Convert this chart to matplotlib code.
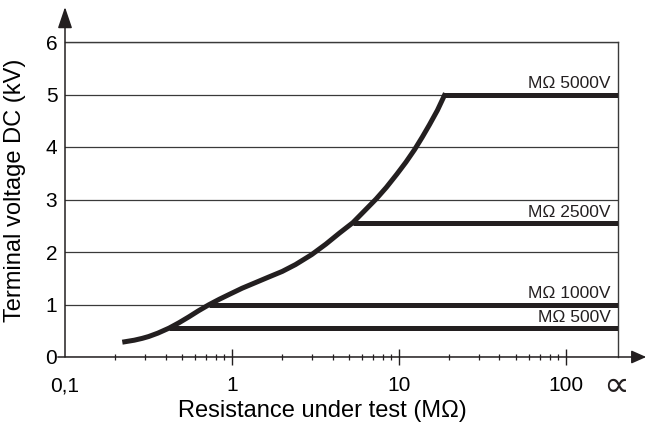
import numpy as np
import matplotlib
matplotlib.use("Agg")
import matplotlib.pyplot as plt
from matplotlib.ticker import FixedLocator, NullFormatter

plt.rcParams['font.family'] = ['Liberation Sans', 'DejaVu Sans']

# curve: resistance (MOhm) vs terminal voltage (kV)
resistance = [0.228, 0.26, 0.29, 0.317, 0.36, 0.42, 0.48, 0.552, 0.63, 0.727,
              0.84, 0.96, 1.15, 1.39, 1.65, 2.0, 2.4, 3.0, 3.65, 4.4,
              5.3, 6.2, 7.3, 8.4, 9.7, 11.0, 12.4, 13.8, 15.2, 17.0, 18.7]
voltage = [0.29, 0.32, 0.355, 0.39, 0.455, 0.55, 0.65, 0.765, 0.88, 0.995,
           1.1, 1.19, 1.31, 1.42, 1.52, 1.63, 1.76, 1.95, 2.15, 2.36,
           2.56, 2.78, 3.01, 3.23, 3.48, 3.71, 3.95, 4.19, 4.42, 4.7, 4.98]

# plateau for each test range: start resistance, voltage, label
range_start = [0.42, 0.727, 5.3, 18.7]
range_volt = [0.55, 1.0, 2.55, 5.0]
range_label = ['MΩ 500V', 'MΩ 1000V', 'MΩ 2500V', 'MΩ 5000V']

x_ticks = [0.1, 1, 10, 100]
x_tick_labels = ['0,1', '1', '10', '100']
y_ticks = [0, 1, 2, 3, 4, 5, 6]
x_max = 205

ink = '#231f20'
grey = '#3a3a3a'

fig = plt.figure(figsize=(6.47, 4.28), dpi=100)
ax = fig.add_axes([65 / 647, 1 - 357 / 428, 553 / 647, 315 / 428])

ax.set_xscale('log')
ax.set_xlim(0.1, x_max)
ax.set_ylim(0, 6)

# thin horizontal grid
ax.set_yticks(y_ticks)
ax.yaxis.grid(True, color=grey, lw=0.9)
ax.set_axisbelow(True)

# main curve and plateaus
ax.plot(resistance, voltage, color=ink, lw=3.6, solid_joinstyle='round', zorder=3)
for xs, v, lab in zip(range_start, range_volt, range_label):
    ax.plot([xs, x_max], [v, v], color=ink, lw=3.6, solid_capstyle='butt', zorder=3)
    ax.annotate(lab, xy=(185, v), xytext=(0, 4.5), textcoords='offset points',
                ha='right', va='baseline', fontsize=12.5, color=ink)

# spines: keep top/right, draw left/bottom as arrows
for s in ['left', 'bottom']:
    ax.spines[s].set_visible(False)
for s in ['top', 'right']:
    ax.spines[s].set_color(grey)
    ax.spines[s].set_linewidth(1.0)

ax.annotate('', xy=(0, 1.111), xytext=(0, 0), xycoords='axes fraction',
            arrowprops=dict(arrowstyle='-|>,head_length=0.65,head_width=0.22',
                            mutation_scale=20, color=ink, lw=1.1,
                            shrinkA=0, shrinkB=0))
ax.annotate('', xy=(1.051, 0), xytext=(-0.013, 0), xycoords='axes fraction',
            arrowprops=dict(arrowstyle='-|>,head_length=0.45,head_width=0.2',
                            mutation_scale=20, color=ink, lw=1.1,
                            shrinkA=0, shrinkB=0))

# x ticks
ax.xaxis.set_major_locator(FixedLocator(x_ticks))
ax.set_xticklabels(x_tick_labels)
minors = [m * d for d in [0.1, 1, 10] for m in range(2, 10)]
ax.xaxis.set_minor_locator(FixedLocator(minors))
ax.xaxis.set_minor_formatter(NullFormatter())
ax.tick_params(axis='x', which='major', direction='inout', length=11.5,
               width=1.0, color=ink, labelsize=15, pad=8)
ax.tick_params(axis='x', which='minor', direction='inout', length=3.8,
               width=0.9, color=ink)
ax.xaxis.get_major_ticks()[0].tick1line.set_visible(False)
ax.tick_params(axis='y', length=0, labelsize=15, pad=5.5)

ax.annotate('∝', xy=(x_max, 0), xycoords='data', xytext=(-1.5, -21),
            textcoords='offset points', ha='center', va='center',
            fontsize=26, family='DejaVu Sans', color=ink, annotation_clip=False)

ax.set_xlabel('Resistance under test (MΩ)', fontsize=17)
ax.xaxis.set_label_coords(0.4656, -0.1375)
ax.set_ylabel('Terminal voltage DC (kV)', fontsize=17)
ax.yaxis.set_label_coords(-0.07, 0.53)

fig.savefig('out.png', dpi=100)
